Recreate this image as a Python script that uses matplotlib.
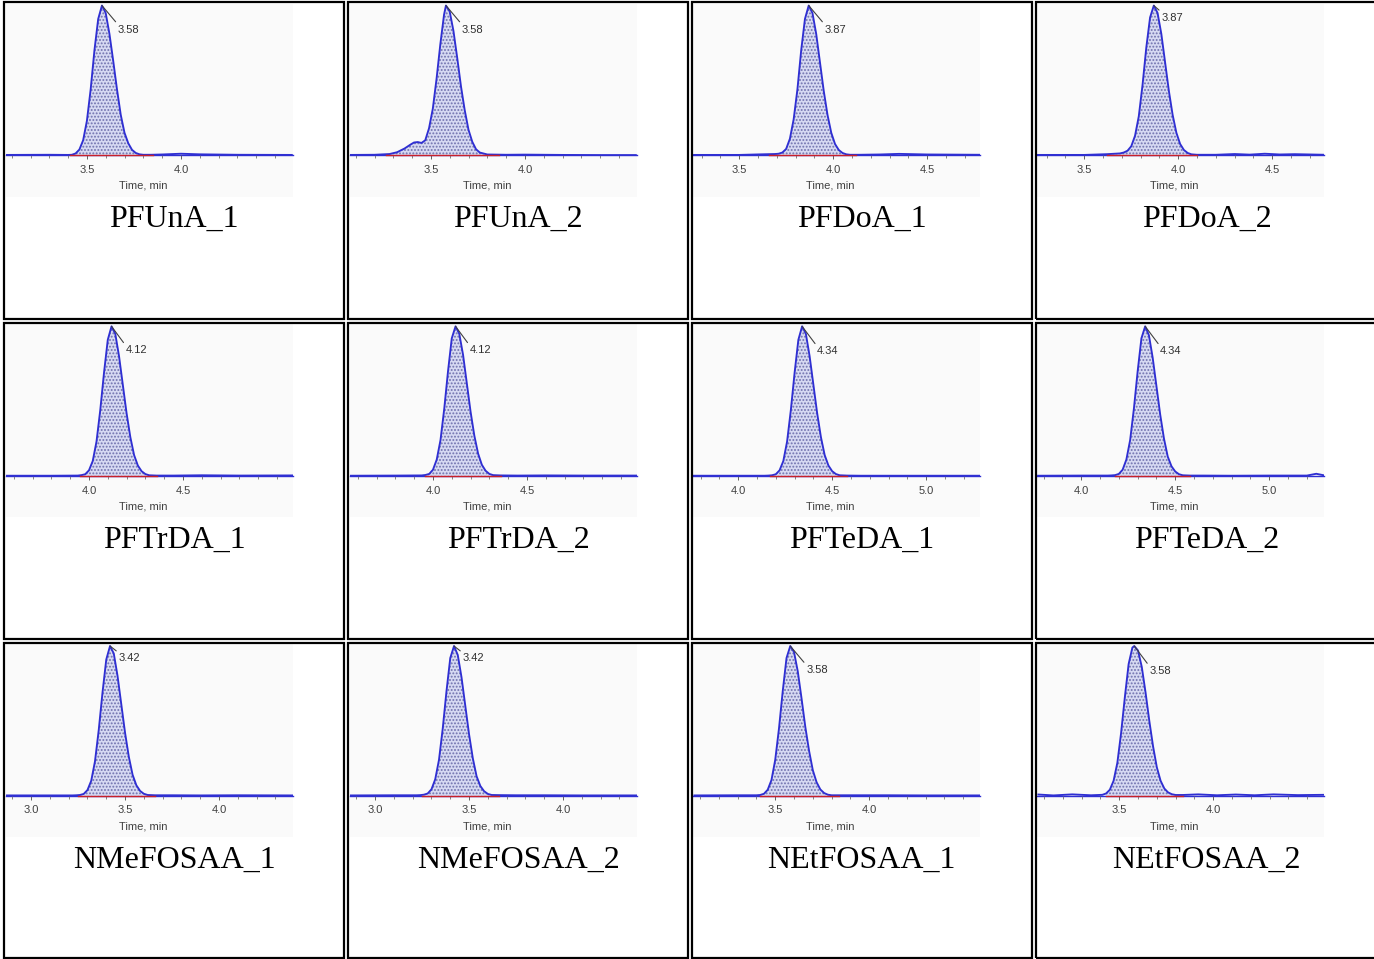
import numpy as np
import matplotlib
matplotlib.use("Agg")
import matplotlib.pyplot as plt
from matplotlib.patches import Rectangle
from matplotlib.ticker import MultipleLocator, FormatStrFormatter
from matplotlib.transforms import blended_transform_factory

# ---------------------------------------------------------------- data ----
panel_names = ["PFUnA_1", "PFUnA_2", "PFDoA_1", "PFDoA_2",
               "PFTrDA_1", "PFTrDA_2", "PFTeDA_1", "PFTeDA_2",
               "NMeFOSAA_1", "NMeFOSAA_2", "NEtFOSAA_1", "NEtFOSAA_2"]

# retention time printed at each apex (min)
apex_times = [3.58, 3.58, 3.87, 3.87, 4.12, 4.12, 4.34, 4.34, 3.42, 3.42, 3.58, 3.58]

# left edge of each time window (min)
window_starts = [3.067, 3.067, 3.253, 3.247, 3.556, 3.556, 3.758, 3.763,
                 2.864, 2.864, 3.061, 3.061]

# labelled major ticks
tick_labels = [[3.5, 4.0], [3.5, 4.0], [3.5, 4.0, 4.5], [3.5, 4.0, 4.5],
               [4.0, 4.5], [4.0, 4.5], [4.0, 4.5, 5.0], [4.0, 4.5, 5.0],
               [3.0, 3.5, 4.0], [3.0, 3.5, 4.0], [3.5, 4.0], [3.5, 4.0]]

# integration limits (min)
integration_windows = [(3.41, 3.85), (3.26, 3.86), (3.66, 4.12), (3.62, 4.10),
                       (3.95, 4.36), (3.96, 4.36), (4.17, 4.58), (4.18, 4.58),
                       (3.25, 3.66), (3.25, 3.66), (3.42, 3.84), (3.43, 3.84)]

# traces: time (min) and relative intensity (%)
pfuna_1_t = [3.07, 3.30, 3.40, 3.42, 3.44, 3.46, 3.48, 3.50, 3.52, 3.54, 3.56, 3.58, 3.60,
             3.62, 3.64, 3.66, 3.68, 3.70, 3.72, 3.74, 3.76, 3.78, 3.80, 3.84, 3.90, 4.00,
             4.10, 4.30, 4.59]
pfuna_1_y = [0.2, 0.3, 0.2, 0.3, 1.2, 3.8, 10, 23, 44, 70, 91, 100, 95,
             81, 63, 44, 27, 15, 8, 3.6, 1.5, 0.6, 0.3, 0.3, 0.5, 1.0,
             0.6, 0.3, 0.2]

pfuna_2_t = [3.07, 3.20, 3.28, 3.32, 3.36, 3.39, 3.41, 3.43, 3.45, 3.47, 3.49, 3.51, 3.53,
             3.55, 3.57, 3.58, 3.60, 3.62, 3.64, 3.66, 3.68, 3.70, 3.72, 3.74, 3.76, 3.80,
             3.90, 4.00, 4.20, 4.40, 4.59]
pfuna_2_y = [0.2, 0.3, 0.8, 2.0, 4.5, 7.0, 8.5, 8.8, 8.2, 10, 18, 31, 51,
             74, 94, 100, 96, 83, 65, 46, 30, 17, 9, 4, 1.8, 0.5,
             0.3, 0.4, 0.2, 0.1, 0.1]

pfdoa_1_t = [3.26, 3.50, 3.62, 3.69, 3.71, 3.73, 3.75, 3.77, 3.79, 3.81, 3.83, 3.85, 3.87,
             3.89, 3.91, 3.93, 3.95, 3.97, 3.99, 4.01, 4.03, 4.05, 4.07, 4.09, 4.14, 4.25,
             4.35, 4.50, 4.78]
pfdoa_1_y = [0.2, 0.2, 0.6, 0.8, 1.0, 1.8, 4.2, 11, 24, 44, 70, 91, 100,
             95, 81, 62, 43, 27, 15, 7.5, 3.5, 1.5, 0.6, 0.3, 0.3, 0.5,
             0.9, 0.5, 0.3]

pfdoa_2_t = [3.25, 3.50, 3.62, 3.69, 3.71, 3.73, 3.75, 3.77, 3.79, 3.81, 3.83, 3.85, 3.87,
             3.89, 3.91, 3.93, 3.95, 3.97, 3.99, 4.01, 4.03, 4.05, 4.07, 4.10, 4.20, 4.30,
             4.38, 4.46, 4.54, 4.62, 4.78]
pfdoa_2_y = [0.2, 0.2, 0.7, 1.2, 1.8, 3.0, 6, 13, 26, 47, 72, 92, 100,
             95, 81, 62, 43, 27, 15, 7.5, 3.5, 1.5, 0.6, 0.3, 0.3, 0.8,
             0.4, 1.0, 0.5, 0.7, 0.3]

pftrda_1_t = [3.56, 3.80, 3.94, 3.96, 3.98, 4.00, 4.02, 4.04, 4.06, 4.08, 4.10, 4.12, 4.14,
              4.16, 4.18, 4.20, 4.22, 4.24, 4.26, 4.28, 4.30, 4.32, 4.36, 4.45, 4.60, 4.80,
              5.09]
pftrda_1_y = [0.2, 0.2, 0.3, 0.6, 1.2, 3.8, 10, 23, 44, 69, 91, 100, 95,
              80, 61, 42, 26, 14, 7, 3.2, 1.3, 0.5, 0.3, 0.3, 0.5, 0.3,
              0.4]

pftrda_2_t = [3.56, 3.80, 3.94, 3.96, 3.98, 4.00, 4.02, 4.04, 4.06, 4.08, 4.10, 4.12, 4.14,
              4.16, 4.18, 4.20, 4.22, 4.24, 4.26, 4.28, 4.30, 4.32, 4.36, 4.45, 4.60, 4.80,
              5.09]
pftrda_2_y = [0.2, 0.3, 0.4, 0.7, 1.4, 4.2, 11, 24, 45, 70, 92, 100, 95,
              81, 62, 43, 27, 15, 7.5, 3.5, 1.4, 0.6, 0.4, 0.3, 0.4, 0.3,
              0.3]

pfteda_1_t = [3.76, 4.00, 4.14, 4.16, 4.18, 4.20, 4.22, 4.24, 4.26, 4.28, 4.30, 4.32, 4.34,
              4.36, 4.38, 4.40, 4.42, 4.44, 4.46, 4.48, 4.50, 4.52, 4.54, 4.58, 4.65, 4.80,
              5.00, 5.29]
pfteda_1_y = [0.2, 0.2, 0.2, 0.3, 0.5, 1.2, 3.8, 10, 23, 44, 69, 91, 100,
              95, 80, 61, 42, 26, 14, 7, 3.2, 1.3, 0.5, 0.3, 0.2, 0.2,
              0.2, 0.2]

pfteda_2_t = [3.77, 4.00, 4.14, 4.16, 4.18, 4.20, 4.22, 4.24, 4.26, 4.28, 4.30, 4.32, 4.34,
              4.36, 4.38, 4.40, 4.42, 4.44, 4.46, 4.48, 4.50, 4.52, 4.54, 4.58, 4.65, 4.80,
              5.00, 5.20, 5.25, 5.29]
pfteda_2_y = [0.2, 0.3, 0.3, 0.4, 0.6, 1.4, 4.2, 11, 24, 45, 70, 92, 100,
              94, 79, 60, 41, 25, 13, 6.5, 3.0, 1.2, 0.5, 0.3, 0.3, 0.2,
              0.3, 0.3, 1.5, 0.5]

nmefosaa_1_t = [2.87, 3.10, 3.22, 3.24, 3.26, 3.28, 3.30, 3.32, 3.34, 3.36, 3.38, 3.40, 3.42,
                3.44, 3.46, 3.48, 3.50, 3.52, 3.54, 3.56, 3.58, 3.60, 3.62, 3.66, 3.75, 3.90,
                4.10, 4.39]
nmefosaa_1_y = [0.2, 0.2, 0.2, 0.3, 0.5, 1.2, 3.8, 10, 23, 44, 69, 91, 100,
                95, 80, 61, 42, 26, 14, 7, 3.2, 1.3, 0.5, 0.3, 0.3, 0.2,
                0.3, 0.2]

nmefosaa_2_t = [2.87, 3.10, 3.22, 3.24, 3.26, 3.28, 3.30, 3.32, 3.34, 3.36, 3.38, 3.40, 3.42,
                3.44, 3.46, 3.48, 3.50, 3.52, 3.54, 3.56, 3.58, 3.60, 3.62, 3.66, 3.75, 3.90,
                4.10, 4.39]
nmefosaa_2_y = [0.2, 0.3, 0.3, 0.4, 0.7, 1.5, 4.3, 11, 24, 45, 70, 92, 100,
                94, 79, 60, 41, 25, 13, 6.5, 3.0, 1.2, 0.5, 0.4, 0.3, 0.3,
                0.2, 0.2]

netfosaa_1_t = [3.07, 3.30, 3.40, 3.42, 3.44, 3.46, 3.48, 3.50, 3.52, 3.54, 3.56, 3.58, 3.60,
                3.62, 3.64, 3.66, 3.68, 3.70, 3.72, 3.74, 3.76, 3.78, 3.80, 3.84, 3.90, 4.10,
                4.30, 4.59]
netfosaa_1_y = [0.2, 0.3, 0.3, 0.5, 1.3, 4.0, 10.5, 24, 45, 70, 92, 100, 96,
                83, 65, 46, 30, 17, 9, 4.2, 1.8, 0.7, 0.3, 0.3, 0.3, 0.3,
                0.2, 0.2]

netfosaa_2_t = [3.07, 3.15, 3.25, 3.35, 3.41, 3.43, 3.45, 3.47, 3.49, 3.51, 3.53, 3.55, 3.57,
                3.58, 3.60, 3.62, 3.64, 3.66, 3.68, 3.70, 3.72, 3.74, 3.76, 3.78, 3.80, 3.84,
                3.92, 4.02, 4.12, 4.22, 4.32, 4.45, 4.59]
netfosaa_2_y = [0.8, 0.2, 0.9, 0.3, 0.6, 1.5, 4, 10, 22, 42, 66, 88, 99,
                100, 97, 86, 69, 50, 33, 19, 10, 4.8, 2.2, 1.0, 0.5, 0.5,
                0.9, 0.3, 0.8, 0.3, 0.9, 0.4, 0.6]

traces = [(pfuna_1_t, pfuna_1_y), (pfuna_2_t, pfuna_2_y),
          (pfdoa_1_t, pfdoa_1_y), (pfdoa_2_t, pfdoa_2_y),
          (pftrda_1_t, pftrda_1_y), (pftrda_2_t, pftrda_2_y),
          (pfteda_1_t, pfteda_1_y), (pfteda_2_t, pfteda_2_y),
          (nmefosaa_1_t, nmefosaa_1_y), (nmefosaa_2_t, nmefosaa_2_y),
          (netfosaa_1_t, netfosaa_1_y), (netfosaa_2_t, netfosaa_2_y)]

# ------------------------------------------------------------- layout ----
W, H = 1374, 959
DPI = 100
fig = plt.figure(figsize=(W / DPI, H / DPI), dpi=DPI)
fig.patch.set_facecolor("white")

col_left = [4.3, 348.3, 691.5, 1035.5]
col_right = [344.3, 688.0, 1032.0, 1378.0]
row_top = [2.2, 323.0, 642.7]
row_bottom = [319.0, 639.0, 958.3]

PLOT_W, PLOT_H = 287.0, 193.0      # chromatogram picture size (px)
PX_PER_MIN = 188.0                 # horizontal scale (px per minute)
BASELINE_PX = 151.5                # baseline distance from the top of the picture
PX_PER_PCT = 1.505                 # vertical scale (px per % intensity)

# label placement of the apex callout (px right, px down)
callout_offsets = [(16, 24), (16, 24), (16, 24), (8, 12),
                   (14, 24), (14, 24), (15, 25), (15, 25),
                   (9, 12), (9, 12), (16, 24), (15, 25)]

TRACE = "#2f2fd2"
FILL = "#d6d9f2"
DOTS = "#6f71ad"
BASE_RED = "#c8202a"

plt.rcParams["hatch.linewidth"] = 0.9


def fig_box(x0, y0, w, h):
    return [x0 / W, 1 - (y0 + h) / H, w / W, h / H]


# table cell borders
for r in range(3):
    for c in range(4):
        x0, x1 = col_left[c], col_right[c]
        y0, y1 = row_top[r], row_bottom[r]
        fig.add_artist(Rectangle((x0 / W, 1 - y1 / H), (x1 - x0) / W, (y1 - y0) / H,
                                 transform=fig.transFigure, fill=False,
                                 edgecolor="black", linewidth=1.6, zorder=10))

for i, name in enumerate(panel_names):
    r, c = divmod(i, 4)
    left = col_left[c] + 1.2
    top = row_top[r] + 1.3
    ax = fig.add_axes(fig_box(left, top, PLOT_W, PLOT_H))
    ax.set_facecolor("#fafafa")

    x0 = window_starts[i]
    ax.set_xlim(x0, x0 + PLOT_W / PX_PER_MIN)
    y_top = BASELINE_PX / PX_PER_PCT
    ax.set_ylim(-(PLOT_H - BASELINE_PX) / PX_PER_PCT, y_top + 0.7)

    t = np.asarray(traces[i][0], dtype=float)
    y = np.asarray(traces[i][1], dtype=float)
    a, b = integration_windows[i]
    inside = (t >= a) & (t <= b)

    ax.fill_between(t, y, 0, where=inside, facecolor=FILL, edgecolor=DOTS,
                    hatch=".....", linewidth=0, zorder=2)
    ax.plot(t, y, color=TRACE, linewidth=1.35, zorder=3, solid_joinstyle="round")
    ax.plot([a, b], [0, 0], color=BASE_RED, linewidth=1.0, zorder=4)

    # axis along the baseline
    for side in ("top", "left", "right"):
        ax.spines[side].set_visible(False)
    ax.spines["bottom"].set_position(("data", 0))
    ax.spines["bottom"].set_color(TRACE)
    ax.spines["bottom"].set_linewidth(1.0)
    ax.spines["bottom"].set_zorder(1)
    ax.set_yticks([])
    ax.set_xticks(tick_labels[i])
    ax.xaxis.set_major_formatter(FormatStrFormatter("%.1f"))
    ax.xaxis.set_minor_locator(MultipleLocator(0.1))
    ax.tick_params(axis="x", which="major", length=3, width=0.7, color="#606060",
                   pad=4, labelsize=8, labelcolor="#404040")
    ax.tick_params(axis="x", which="minor", length=2, width=0.6, color="#707070")
    for lab in ax.get_xticklabels():
        lab.set_fontfamily("Liberation Sans")

    tr = blended_transform_factory(ax.transAxes, ax.transAxes)
    ax.text(0.48, 1 - 182.5 / PLOT_H, "Time, min", transform=tr, ha="center",
            va="center", fontsize=8, color="#404040", family="Liberation Sans")

    # apex callout
    apex = apex_times[i]
    peak = float(np.max(y))
    dx, dy = callout_offsets[i]
    ax.annotate(f"{apex:.2f}", xy=(apex, peak), xytext=(dx, -dy),
                textcoords="offset pixels", ha="left", va="center",
                fontsize=8, color="#303030", family="Liberation Sans",
                arrowprops=dict(arrowstyle="-", color="#404040", lw=0.8,
                                shrinkA=0, shrinkB=0, relpos=(0, 1)),
                annotation_clip=False, zorder=5)

    # compound caption
    cx = (col_left[c] + col_right[c]) / 2
    fig.text(cx / W, 1 - (row_top[r] + 225) / H, name, ha="center", va="baseline",
             fontsize=23, family="Liberation Serif", color="black")

fig.savefig("out.png", dpi=DPI, facecolor="white")
